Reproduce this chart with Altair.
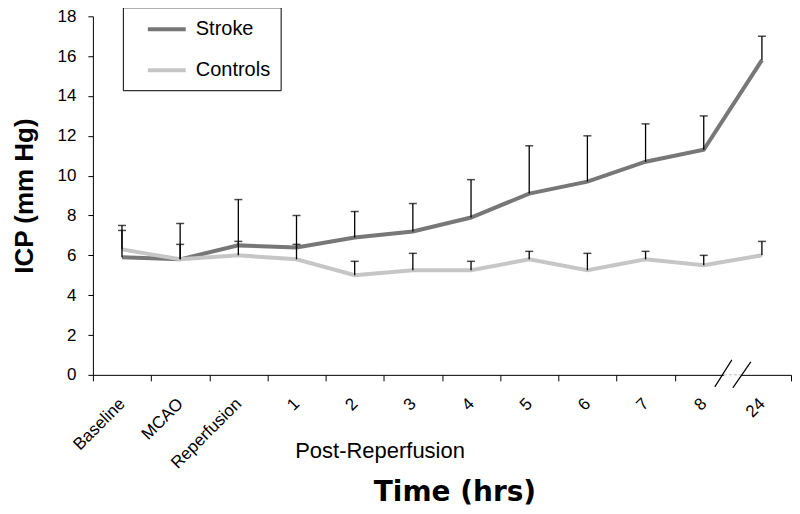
import altair as alt
import pandas as pd

categories = ["Baseline", "MCAO", "Reperfusion", "1", "2", "3", "4", "5", "6", "7", "8", "24"]
stroke_mean = [5.9, 5.8, 6.5, 6.4, 6.9, 7.2, 7.9, 9.1, 9.7, 10.7, 11.3, 15.8]
stroke_upper = [7.5, 7.6, 8.8, 8.0, 8.2, 8.6, 9.8, 11.5, 12.0, 12.6, 13.0, 17.0]
controls_mean = [6.3, 5.8, 6.0, 5.8, 5.0, 5.25, 5.25, 5.8, 5.25, 5.8, 5.5, 6.0]
controls_upper = [7.25, 6.55, 6.7, 6.55, 5.7, 6.1, 5.7, 6.2, 6.1, 6.2, 6.0, 6.7]
series_names = ["Stroke", "Controls"]
series_colors = ["#777777", "#c6c6c6"]

rows = []
for name, means, uppers in [("Stroke", stroke_mean, stroke_upper), ("Controls", controls_mean, controls_upper)]:
    for i, (c, m, u) in enumerate(zip(categories, means, uppers)):
        rows.append({"idx": i, "cat": c, "series": name, "mean": m, "upper": u})
df = pd.DataFrame(rows)

n = len(categories)
brk = (categories.index("8") + categories.index("24")) / 2.0

xscale = alt.Scale(domain=[-0.5, n - 0.5], nice=False, zero=False)
yscale = alt.Scale(domain=[0, 18], nice=False)

label_expr = "[" + ",".join("'" + c + "'" for c in categories) + "][datum.value]"

axis_labels = alt.Axis(
    values=list(range(n)), labelExpr=label_expr, ticks=False, domain=False, grid=False,
    labelAngle=-45, labelFontSize=17, labelPadding=26, labelColor="black",
    labelAlign="right", labelBaseline="middle", labelOverlap=False, labelBound=False,
    title="Post-Reperfusion", titleFontSize=22, titleFontWeight="normal", titleColor="black",
    titleX=287, titleY=76, titleBaseline="middle", titleAlign="center",
    orient="bottom",
)
tick_vals = [i - 0.5 for i in range(n) if (i - 0.5) != brk] + [n - 0.5]
axis_ticks = alt.Axis(
    values=tick_vals, labels=False, ticks=True, tickSize=6, tickColor="black",
    domain=True, domainColor="black", grid=False, title=None, orient="bottom",
)
yaxis = alt.Axis(
    values=list(range(0, 19, 2)), tickSize=5, tickColor="black", domainColor="black",
    grid=False, labelFontSize=17, labelColor="black", labelPadding=12,
    title="ICP (mm Hg)", titleFontSize=26, titleFontWeight="bold", titleColor="black",
    titlePadding=20,
)

base = alt.Chart(df)

lines = base.mark_line(strokeWidth=4).encode(
    x=alt.X("idx:Q", scale=xscale, axis=axis_labels),
    y=alt.Y("mean:Q", scale=yscale, axis=yaxis),
    color=alt.Color(
        "series:N",
        scale=alt.Scale(domain=series_names, range=series_colors),
        sort=series_names,
        legend=alt.Legend(
            title=None, orient="none", legendX=30, legendY=-9,
            symbolType="M-1.9,0H1.9", symbolSize=400, symbolStrokeWidth=4,
            symbolOffset=22, labelOffset=17,
            labelFontSize=20, labelColor="black",
            rowPadding=19, padding=10, strokeColor="black", fillColor="white",
        ),
    ),
    detail="series:N",
)

err = base.mark_rule(color="black", strokeWidth=1.3).encode(
    x=alt.X("idx:Q", scale=xscale, axis=axis_ticks),
    y=alt.Y("mean:Q", scale=yscale, axis=yaxis),
    y2="upper:Q",
)

caps = base.mark_tick(orient="horizontal", size=8, thickness=1.5, color="black").encode(
    x=alt.X("idx:Q", scale=xscale, axis=None),
    y=alt.Y("upper:Q", scale=yscale, axis=yaxis),
)

brk_df = pd.DataFrame({"pos": [brk], "zero": [0]})
bbase = alt.Chart(brk_df)

gap = bbase.mark_rule(color="white", strokeWidth=3, xOffset=-9, x2Offset=9).encode(
    x=alt.X("pos:Q", scale=xscale, axis=None), x2="pos:Q",
    y=alt.Y("zero:Q", scale=yscale, axis=yaxis),
)
gapdash = bbase.mark_rule(color="#bbbbbb", strokeWidth=1, strokeDash=[3, 2], xOffset=-9, x2Offset=9).encode(
    x=alt.X("pos:Q", scale=xscale, axis=None), x2="pos:Q",
    y=alt.Y("zero:Q", scale=yscale, axis=yaxis),
)
slash1 = bbase.mark_rule(color="black", strokeWidth=1.2, xOffset=-18, x2Offset=-1, yOffset=12, y2Offset=-15).encode(
    x=alt.X("pos:Q", scale=xscale, axis=None), x2="pos:Q",
    y=alt.Y("zero:Q", scale=yscale, axis=yaxis), y2="zero:Q",
)
slash2 = bbase.mark_rule(color="black", strokeWidth=1.2, xOffset=0, x2Offset=18, yOffset=13, y2Offset=-13).encode(
    x=alt.X("pos:Q", scale=xscale, axis=None), x2="pos:Q",
    y=alt.Y("zero:Q", scale=yscale, axis=yaxis), y2="zero:Q",
)

chart = alt.layer(lines, err, caps, gap, gapdash, slash1, slash2).resolve_axis(
    x="independent"
).properties(
    width=699, height=359,
    autosize=alt.AutoSizeParams(type="none"),
    padding={"left": 85, "top": 8, "right": 1, "bottom": 138},
    title=alt.TitleParams("Time (hrs)", orient="bottom", fontSize=28, fontWeight="bold",
                          font="DejaVu Sans", color="black", offset=8, anchor="middle", dx=13),
).configure(
    font="Liberation Sans",
).configure_view(stroke=None)

chart.save("out.html", embed_options={"renderer": "svg", "actions": False})
